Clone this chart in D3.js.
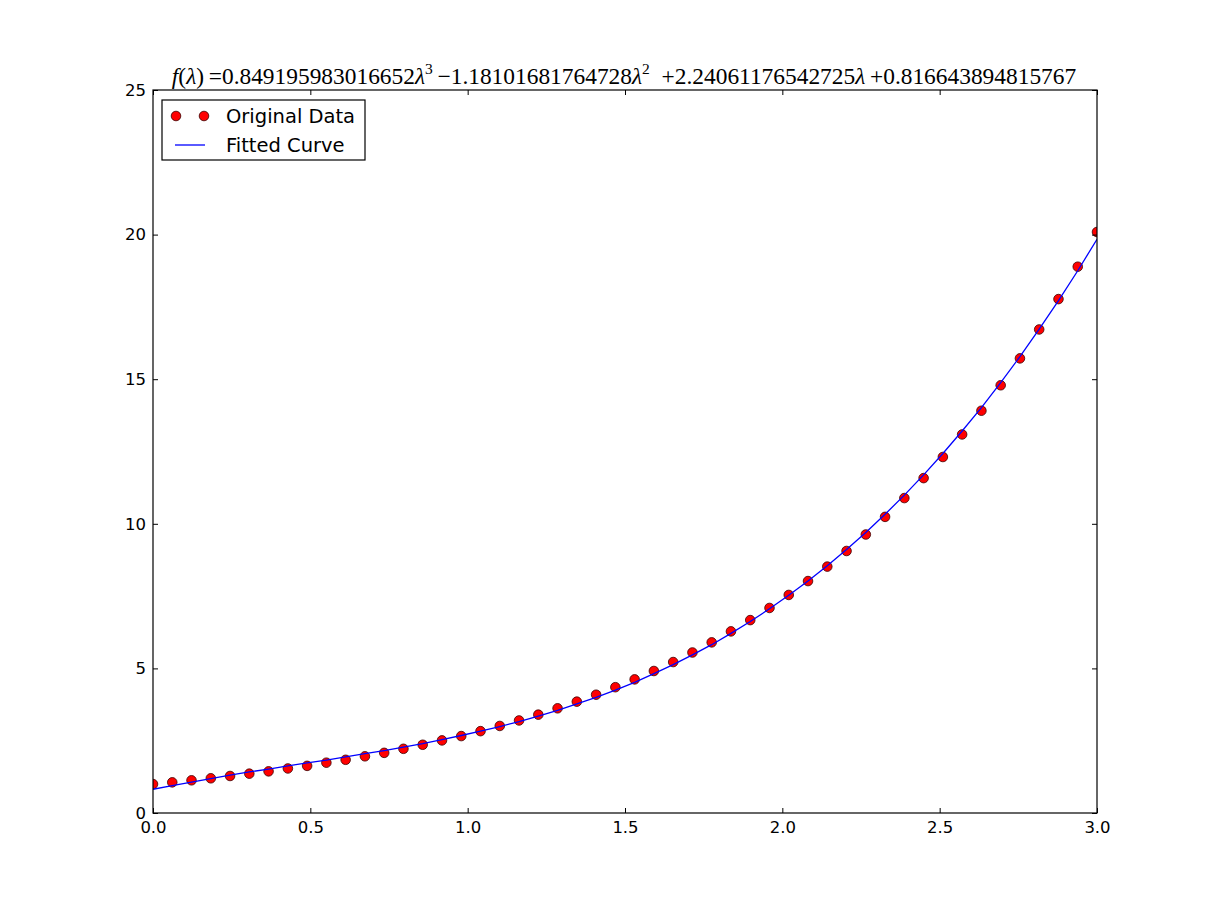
<!DOCTYPE html>
<html>
<head>
<meta charset="utf-8">
<script src="https://cdn.jsdelivr.net/npm/d3@7"></script>
<style>
  body { margin: 0; background: #fff; }
  text { font-family: "DejaVu Sans", sans-serif; }
</style>
</head>
<body>
<svg id="chart" width="1218" height="903"></svg>
<script>
// sample positions (lambda)
var xValues = [0, 0.0612, 0.1224, 0.1837, 0.2449, 0.3061, 0.3673, 0.4286, 0.4898, 0.5510,
    0.6122, 0.6735, 0.7347, 0.7959, 0.8571, 0.9184, 0.9796, 1.0408, 1.1020, 1.1633,
    1.2245, 1.2857, 1.3469, 1.4082, 1.4694, 1.5306, 1.5918, 1.6531, 1.7143, 1.7755,
    1.8367, 1.8980, 1.9592, 2.0204, 2.0816, 2.1429, 2.2041, 2.2653, 2.3265, 2.3878,
    2.4490, 2.5102, 2.5714, 2.6327, 2.6939, 2.7551, 2.8163, 2.8776, 2.9388, 3.0];

// red dots
var originalData = [1.00, 1.06, 1.13, 1.20, 1.28, 1.36, 1.44, 1.54, 1.63, 1.74,
    1.84, 1.96, 2.08, 2.22, 2.36, 2.51, 2.66, 2.83, 3.01, 3.20,
    3.40, 3.62, 3.85, 4.09, 4.35, 4.62, 4.91, 5.22, 5.55, 5.90,
    6.28, 6.67, 7.09, 7.54, 8.02, 8.52, 9.06, 9.63, 10.24, 10.89,
    11.58, 12.31, 13.09, 13.91, 14.79, 15.72, 16.72, 17.77, 18.89, 20.09];

// blue line
var fittedCurve = [0.82, 0.95, 1.07, 1.19, 1.31, 1.42, 1.52, 1.63, 1.73, 1.83,
    1.94, 2.05, 2.16, 2.28, 2.40, 2.54, 2.68, 2.83, 2.99, 3.16,
    3.35, 3.55, 3.77, 4.00, 4.25, 4.52, 4.82, 5.13, 5.47, 5.82,
    6.21, 6.62, 7.06, 7.53, 8.02, 8.55, 9.11, 9.70, 10.33, 10.99,
    11.69, 12.43, 13.21, 14.02, 14.88, 15.78, 16.73, 17.72, 18.75, 19.84];

var xTicks = [0, 0.5, 1.0, 1.5, 2.0, 2.5, 3.0];
var yTicks = [0, 5, 10, 15, 20, 25];
var legendLabels = ["Original Data", "Fitted Curve"];

var margin = {left: 153, top: 90, right: 121, bottom: 90};
var width = 1218 - margin.left - margin.right;
var height = 903 - margin.top - margin.bottom;

var svg = d3.select("#chart");

var x = d3.scaleLinear().domain([0, 3]).range([0, width]);
var y = d3.scaleLinear().domain([0, 25]).range([height, 0]);

var g = svg.append("g")
    .attr("transform", "translate(" + margin.left + "," + margin.top + ")");

g.append("defs").append("clipPath")
    .attr("id", "clip")
    .append("rect")
    .attr("width", width)
    .attr("height", height);

var plot = g.append("g").attr("clip-path", "url(#clip)");

// dots
plot.selectAll(".dot")
    .data(originalData)
    .enter()
    .append("circle")
    .attr("class", "dot")
    .attr("cx", function(d, i) { return x(xValues[i]); })
    .attr("cy", function(d) { return y(d); })
    .attr("r", 4.8)
    .attr("style", "fill:#ff0000;stroke:#3a0000;stroke-width:0.8;");

// fitted line on top
var line = d3.line()
    .x(function(d, i) { return x(xValues[i]); })
    .y(function(d) { return y(d); });

plot.append("path")
    .datum(fittedCurve)
    .attr("d", line)
    .attr("style", "fill:none;stroke:#0000ff;stroke-width:1.3;");

// axes, ticks inside, on all four sides
var tickFont = function(sel) {
    sel.selectAll("text")
        .attr("style", "font-family:'DejaVu Sans';font-size:16.5px;fill:#000;");
    sel.selectAll("line").attr("stroke", "#000");
    sel.select(".domain").remove();
};

g.append("g")
    .attr("transform", "translate(0," + height + ")")
    .call(d3.axisBottom(x).tickValues(xTicks).tickSizeInner(-5).tickSizeOuter(0).tickPadding(8)
        .tickFormat(d3.format(".1f")))
    .call(tickFont);

g.append("g")
    .call(d3.axisTop(x).tickValues(xTicks).tickSizeInner(-5).tickSizeOuter(0).tickFormat(""))
    .call(tickFont);

g.append("g")
    .call(d3.axisLeft(y).tickValues(yTicks).tickSizeInner(-5).tickSizeOuter(0).tickPadding(7))
    .call(tickFont);

g.append("g")
    .attr("transform", "translate(" + width + ",0)")
    .call(d3.axisRight(y).tickValues(yTicks).tickSizeInner(-5).tickSizeOuter(0).tickFormat(""))
    .call(tickFont);

g.append("rect")
    .attr("width", width)
    .attr("height", height)
    .attr("style", "fill:none;stroke:#000;stroke-width:1.2;");

// legend
var legend = g.append("g").attr("transform", "translate(9,10)");
legend.append("rect")
    .attr("width", 203)
    .attr("height", 60)
    .attr("style", "fill:#fff;stroke:#000;stroke-width:1.2;");

legend.selectAll(".legdot")
    .data([14, 42])
    .enter()
    .append("circle")
    .attr("cx", function(d) { return d; })
    .attr("cy", 16)
    .attr("r", 4.8)
    .attr("style", "fill:#ff0000;stroke:#3a0000;stroke-width:0.8;");

legend.append("line")
    .attr("x1", 13).attr("x2", 43)
    .attr("y1", 45).attr("y2", 45)
    .attr("style", "stroke:#0000ff;stroke-width:1.3;");

legend.selectAll(".legtext")
    .data(legendLabels)
    .enter()
    .append("text")
    .attr("x", 64)
    .attr("y", function(d, i) { return 23 + i * 29; })
    .attr("style", "font-family:'DejaVu Sans';font-size:19.5px;fill:#000;")
    .text(function(d) { return d; });

// title in math style
var title = svg.append("text")
    .attr("x", 624)
    .attr("y", 84)
    .attr("text-anchor", "middle")
    .attr("style", "font-family:'Liberation Serif',serif;font-size:23.4px;fill:#000;");

var parts = [
    ["f", "i"], ["(", ""], ["λ", "i"], [")", ""], ["\u2009=", ""],
    ["0.849195983016652", ""], ["λ", "i"], ["3", "s"], ["\u2009−", ""],
    ["1.18101681764728", ""], ["λ", "i"], ["2", "s"], ["\u2002+", ""],
    ["2.24061176542725", ""], ["λ", "i"], ["\u2009+", ""],
    ["0.816643894815767", ""]
];
parts.forEach(function(p, i) {
    var t = title.append("tspan").text(p[0]);
    if (p[1] == "i") t.attr("font-style", "italic");
    if (p[1] == "s") t.attr("dy", -10).attr("font-size", "15.5px");
    if (i > 0 && parts[i - 1][1] == "s") t.attr("dy", 10);
});
</script>
</body>
</html>
